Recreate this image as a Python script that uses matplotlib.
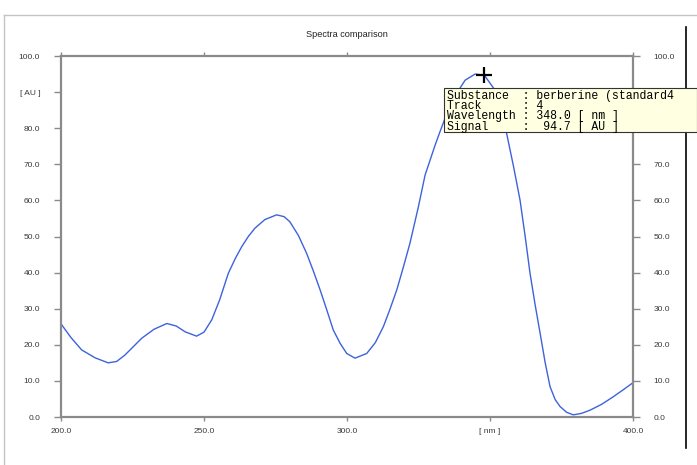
import matplotlib
matplotlib.use("Agg")
import matplotlib.pyplot as plt
from matplotlib.patches import Rectangle
from matplotlib.lines import Line2D

# ---- data ----
wavelength = [200.0, 203.5, 207.2, 211.9, 216.5, 219.5, 222.4, 225.3, 228.2, 232.5,
              237.0, 240.3, 243.4, 247.4, 250.0, 252.7, 255.5, 258.5, 261.0, 263.2,
              265.5, 267.8, 271.3, 275.4, 278.0, 280.0, 283.0, 285.9, 288.3, 290.6,
              293.0, 295.2, 297.6, 299.9, 302.8, 306.9, 309.9, 312.7, 315.0, 317.4,
              319.7, 322.0, 324.9, 327.3, 330.8, 332.5, 334.3, 337.8, 341.3, 344.8,
              348.0, 351.7, 353.8, 355.8, 358.2, 360.5, 362.3, 364.0, 365.8, 367.5,
              369.3, 371.0, 372.8, 374.5, 376.8, 379.1, 382.0, 385.0, 389.0, 393.1,
              396.5, 400.0]
signal = [25.8, 22.0, 18.6, 16.4, 15.0, 15.4, 17.2, 19.5, 21.8, 24.3,
          25.9, 25.2, 23.6, 22.4, 23.5, 26.9, 32.5, 39.8, 44.0, 47.2,
          50.0, 52.3, 54.7, 56.0, 55.5, 54.1, 50.3, 45.3, 40.3, 35.2,
          29.5, 24.1, 20.4, 17.6, 16.3, 17.6, 20.6, 25.0, 29.8, 35.2,
          41.5, 48.1, 58.0, 67.0, 75.3, 79.0, 82.8, 89.0, 93.3, 95.0,
          94.7, 90.6, 85.0, 78.6, 69.5, 60.1, 50.0, 39.8, 31.0, 23.3,
          15.0, 8.4, 4.8, 2.9, 1.3, 0.6, 1.0, 1.9, 3.5, 5.6,
          7.5, 9.5]
x_ticks = [200.0, 250.0, 300.0, 350.0, 400.0]
x_labels = ["200.0", "250.0", "300.0", "[ nm ]", "400.0"]
y_ticks = [0, 10, 20, 30, 40, 50, 60, 70, 80, 90, 100]
y_labels = ["0.0", "10.0", "20.0", "30.0", "40.0", "50.0", "60.0", "70.0", "80.0", "[ AU ]", "100.0"]
title = "Spectra comparison"
cursor_x, cursor_y = 348.0, 94.7
tooltip_lines = ["Substance  : berberine (standard4",
                 "Track      : 4",
                 "Wavelength : 348.0 [ nm ]",
                 "Signal     :  94.7 [ AU ]"]

W, H = 697, 465
plt.rcParams['font.family'] = ['Liberation Sans', 'DejaVu Sans']
fig = plt.figure(figsize=(W / 100, H / 100), dpi=100)

def fx(px):
    return px / W

def fy(py):
    return 1 - py / H

ax = fig.add_axes([fx(61), fy(417), fx(633) - fx(61), fy(56) - fy(417)])
ax.plot(wavelength, signal, color='#3d62dc', lw=1.0)
ax.set_xlim(200, 400)
ax.set_ylim(0, 100)

spine_col = '#8a8a8a'
for s in ax.spines.values():
    s.set_color(spine_col)
    s.set_linewidth(1.6)

ax.set_xticks(x_ticks)
ax.set_xticklabels(x_labels)
ax.set_yticks(y_ticks)
ax.set_yticklabels(y_labels)
ax.tick_params(axis='x', top=True, labeltop=False, color=spine_col, length=3, width=1,
               direction='out', labelsize=6, labelcolor='#3a3a3a', pad=5)
ax.tick_params(axis='y', left=True, right=True, labelright=True, color=spine_col,
               length=5, width=1, direction='out', labelsize=6, labelcolor='#3a3a3a', pad=10)
# the right-hand labels at 80 and 90 are hidden behind the tooltip in the reference
ticks = ax.yaxis.get_major_ticks()
ticks[8].label2.set_visible(False)
ticks[9].label2.set_visible(False)

ax.set_title(title, fontsize=6.6, color='#222222', pad=14)

# cursor cross
ax.plot([cursor_x], [cursor_y], marker='+', color='black', markersize=12, mew=1.6,
        zorder=5, clip_on=False)

# frame lines
fig.add_artist(Line2D([fx(4), fx(4)], [fy(15), 0], color='#c4c4c4', lw=1))
fig.add_artist(Line2D([fx(4), 1], [fy(15), fy(15)], color='#c4c4c4', lw=1))
fig.add_artist(Line2D([fx(686), fx(686)], [fy(27), fy(448)], color='black', lw=1.2))

# tooltip
fig.add_artist(Rectangle((fx(444), fy(132)), fx(697) - fx(444), fy(88) - fy(132),
                         facecolor='#ffffe1', edgecolor='#333333', lw=0.8, zorder=20))
fig.text(fx(447), fy(90), "\n".join(tooltip_lines), fontsize=8.3,
         family=['Liberation Mono', 'DejaVu Sans Mono'], color='black',
         va='top', ha='left', linespacing=0.8, zorder=21)

fig.savefig('out.png', dpi=100)
